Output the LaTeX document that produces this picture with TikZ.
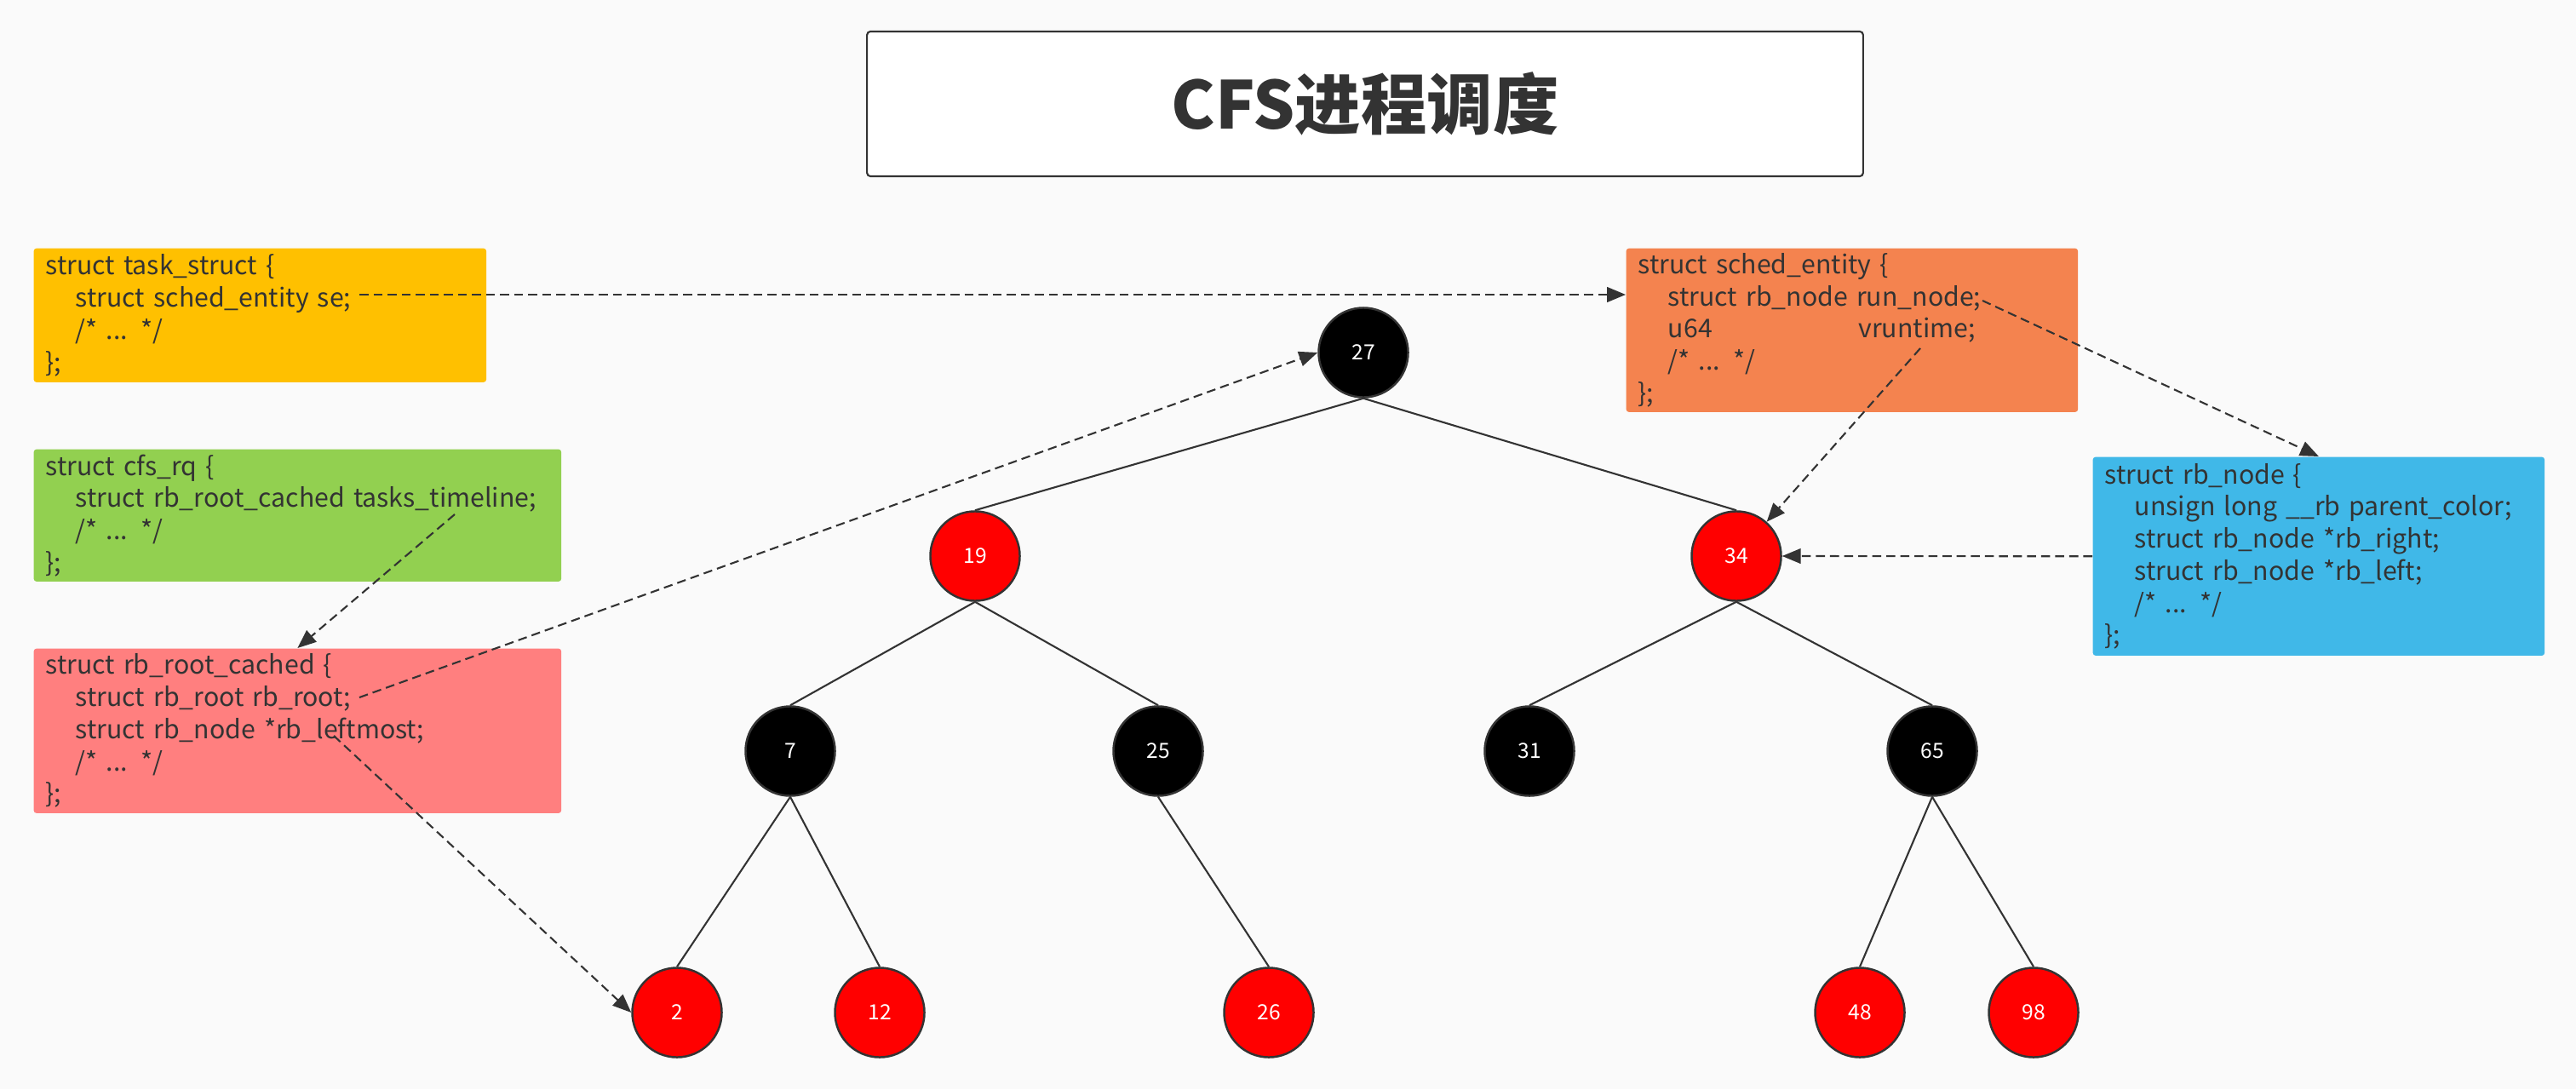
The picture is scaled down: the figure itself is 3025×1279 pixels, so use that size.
\documentclass[tikz,border=0pt]{standalone}
\usepackage{fontspec}
\setmainfont{Noto Sans CJK SC}
\usetikzlibrary{arrows.meta,positioning}
\definecolor{BgGrey}{HTML}{FAFAFA}
\definecolor{InkGrey}{HTML}{333333}
\definecolor{TaskYellow}{HTML}{FFC000}
\definecolor{CfsGreen}{HTML}{92D050}
\definecolor{RootPink}{HTML}{FF7F7F}
\definecolor{EntityOrange}{HTML}{F4834F}
\definecolor{NodeBlue}{HTML}{40B8E8}
\definecolor{TreeRed}{HTML}{FF0000}
\newcommand\pix{0.28453pt}
\newcommand\codeind{\hspace*{10pt}}
\newlength\runw

\begin{document}
\settowidth\runw{\fontsize{8.6}{10.73}\selectfont struct rb\_node run\_node;}
\begin{tikzpicture}[x=0.01cm,y=-0.01cm, every node/.style={text=InkGrey},
  code/.style={anchor=north west, align=left, inner xsep=14*\pix, inner ysep=4*\pix, rounded corners=3*\pix, font=\fontsize{8.6}{10.73}\selectfont},
  rbblack/.style={circle, draw=InkGrey, line width=0.7pt, fill=black, minimum size=105*\pix, inner sep=0pt, text=white, font=\fontsize{7}{8}\selectfont},
  rbred/.style={rbblack, fill=TreeRed},
  ptr/.style={draw=InkGrey, line width=0.6pt, dash pattern=on 3pt off 1.7pt, -{Triangle[length=6.2pt,width=5pt]}}]
  \fill[BgGrey] (0,0) rectangle (3025,1279);
  \node[draw=InkGrey, line width=0.6pt, fill=white, rounded corners=4*\pix, minimum width=1169*\pix, minimum height=170*\pix, font=\fontsize{22}{26}\selectfont\bfseries] (title) at (1603,122) {CFS进程调度};
  % struct boxes
  \node[code, fill=TaskYellow, text width=503*\pix, minimum height=157*\pix] (task) at (39,291) {struct task\_struct \{\\\codeind struct sched\_entity se;\\\codeind /* ... */\\\};};
  \node[code, fill=CfsGreen, text width=591*\pix, minimum height=155*\pix] (cfs) at (39,527) {struct cfs\_rq \{\\\codeind struct rb\_root\_cached tasks\_timeline;\\\codeind /* ... */\\\};};
  \node[code, fill=RootPink, text width=591*\pix, minimum height=193*\pix] (root) at (39,761) {struct rb\_root\_cached \{\\\codeind struct rb\_root rb\_root;\\\codeind struct rb\_node *rb\_leftmost;\\\codeind /* ... */\\\};};
  \node[code, fill=EntityOrange, text width=502*\pix, minimum height=192*\pix] (sched) at (1909,291) {struct sched\_entity \{\\\codeind struct rb\_node run\_node;\\\codeind\makebox[\runw][s]{u64\hfill vruntime;}\\\codeind /* ... */\\\};};
  \node[code, fill=NodeBlue, text width=502*\pix, minimum height=233*\pix] (rbnode) at (2457,536) {struct rb\_node \{\\\codeind unsign long \_\_rb parent\_color;\\\codeind struct rb\_node *rb\_right;\\\codeind struct rb\_node *rb\_left;\\\codeind /* ... */\\\};};
  % red-black tree
  \node[rbblack] (n27) at (1601,414) {27};
  \node[rbred] (n19) at (1145,653) {19};
  \node[rbred] (n34) at (2039,653) {34};
  \node[rbblack] (n7) at (928,882) {7};
  \node[rbblack] (n25) at (1360,882) {25};
  \node[rbblack] (n31) at (1796,882) {31};
  \node[rbblack] (n65) at (2269,882) {65};
  \node[rbred] (n2) at (795,1189) {2};
  \node[rbred] (n12) at (1033,1189) {12};
  \node[rbred] (n26) at (1490,1189) {26};
  \node[rbred] (n48) at (2184,1189) {48};
  \node[rbred] (n98) at (2388,1189) {98};
  \foreach \a/\b in {n27/n19,n27/n34,n19/n7,n19/n25,n34/n31,n34/n65,n7/n2,n7/n12,n25/n26,n65/n48,n65/n98}
    \draw[InkGrey, line width=0.6pt] (\a.south) -- (\b.north);
  % pointers
  \coordinate (se) at (422,346);
  \coordinate (tl) at (534,604);
  \coordinate (rr) at (422,819);
  \coordinate (lm) at (392,864);
  \coordinate (rn) at (2328,353);
  \coordinate (vr) at (2255,409);
  \draw[ptr] (se) -- (se -| sched.west);
  \draw[ptr] (tl) -- (root.north);
  \draw[ptr] (rr) -- (n27.west);
  \draw[ptr] (lm) -- (n2.west);
  \draw[ptr] (rn) -- (rbnode.north);
  \draw[ptr] (vr) -- (n34);
  \draw[ptr] (rbnode.west) -- (n34.east);
\end{tikzpicture}
\end{document}
